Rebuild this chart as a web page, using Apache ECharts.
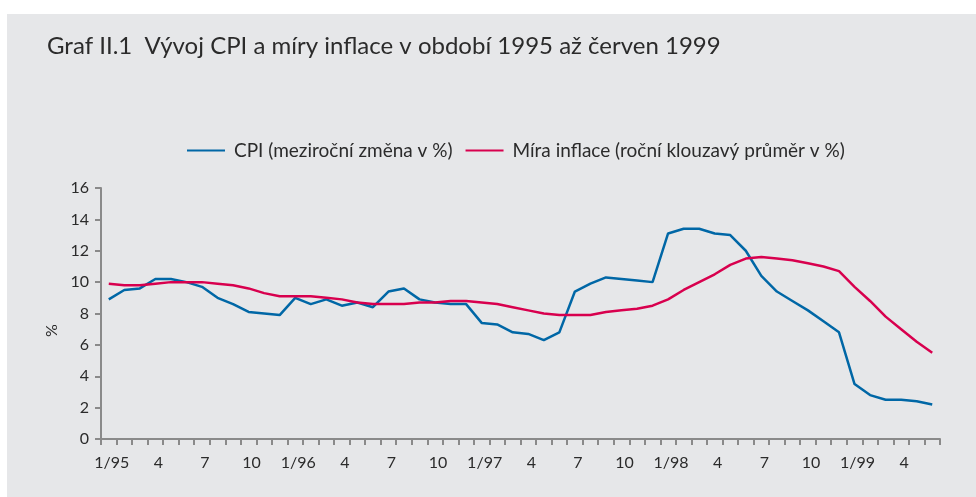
<!DOCTYPE html>
<html>
<head>
<meta charset="utf-8">
<script src="https://cdn.jsdelivr.net/npm/echarts@6/dist/echarts.min.js"></script>
<style>
  html, body { margin: 0; padding: 0; background: #fff; }
  #chart { width: 976px; height: 497px; }
</style>
</head>
<body>
<div id="chart"></div>
<script>
// mesice 1/95 .. 6/99
const months = [
    '1/95', '2', '3', '4', '5', '6', '7', '8', '9', '10', '11', '12',
    '1/96', '2', '3', '4', '5', '6', '7', '8', '9', '10', '11', '12',
    '1/97', '2', '3', '4', '5', '6', '7', '8', '9', '10', '11', '12',
    '1/98', '2', '3', '4', '5', '6', '7', '8', '9', '10', '11', '12',
    '1/99', '2', '3', '4', '5', '6'
]
// CPI (mezirocni zmena v %)
const cpi = [
    8.9, 9.5, 9.6, 10.2, 10.2, 10.0, 9.7, 9.0, 8.6, 8.1, 8.0, 7.9,
    9.0, 8.6, 8.9, 8.5, 8.7, 8.4, 9.4, 9.6, 8.9, 8.7, 8.6, 8.6,
    7.4, 7.3, 6.8, 6.7, 6.3, 6.8, 9.4, 9.9, 10.3, 10.2, 10.1, 10.0,
    13.1, 13.4, 13.4, 13.1, 13.0, 12.0, 10.4, 9.4, 8.8, 8.2, 7.5, 6.8,
    3.5, 2.8, 2.5, 2.5, 2.4, 2.2
]
// mira inflace (rocni klouzavy prumer v %)
const inflace = [
    9.9, 9.8, 9.8, 9.9, 10.0, 10.0, 10.0, 9.9, 9.8, 9.6, 9.3, 9.1,
    9.1, 9.1, 9.0, 8.9, 8.7, 8.6, 8.6, 8.6, 8.7, 8.7, 8.8, 8.8,
    8.7, 8.6, 8.4, 8.2, 8.0, 7.9, 7.9, 7.9, 8.1, 8.2, 8.3, 8.5,
    8.9, 9.5, 10.0, 10.5, 11.1, 11.5, 11.6, 11.5, 11.4, 11.2, 11.0, 10.7,
    9.7, 8.8, 7.8, 7.0, 6.2, 5.5
]

const font = 'Lato'
const axisColor = '#8a8a8a'

let chart = echarts.init(document.getElementById('chart'))
chart.setOption({
    backgroundColor: '#ffffff',
    animation: false,
    textStyle: { fontFamily: font },
    graphic: [
        {
            type: 'rect',
            z: -10,
            shape: { x: 7, y: 14, width: 969, height: 483 },
            style: { fill: '#e6e7e9' }
        }
    ],
    title: {
        text: 'Graf II.1  Vývoj CPI a míry inflace v období 1995 až červen 1999',
        left: 42,
        top: 29,
        textStyle: {
            fontFamily: font,
            fontSize: 24,
            fontWeight: 'normal',
            color: '#2b2b2b'
        }
    },
    legend: {
        left: 182,
        top: 136,
        itemWidth: 38,
        itemHeight: 20,
        itemGap: 13,
        icon: 'path://M0,9 L38,9 L38,11 L0,11 Z',
        textStyle: {
            fontFamily: font,
            fontSize: 19,
            color: '#2b2b2b',
            padding: [0, 0, 0, 4]
        },
        data: ['CPI (meziroční změna v %)', 'Míra inflace (roční klouzavý průměr v %)']
    },
    grid: {
        left: 101,
        right: 36,
        top: 188,
        bottom: 58
    },
    xAxis: {
        type: 'category',
        data: months,
        boundaryGap: true,
        axisLine: { lineStyle: { color: axisColor, width: 2 } },
        axisTick: {
            show: true,
            interval: 0,
            length: 6,
            lineStyle: { color: axisColor, width: 2 }
        },
        axisLabel: {
            interval: 2,
            margin: 16,
            fontFamily: font,
            fontSize: 16,
            color: '#2b2b2b',
            padding: [0, 0, 0, 6]
        },
        splitLine: { show: false }
    },
    yAxis: {
        type: 'value',
        min: 0,
        max: 16,
        interval: 2,
        name: '%',
        nameLocation: 'middle',
        nameGap: 40,
        nameRotate: 90,
        nameTextStyle: {
            fontFamily: font,
            fontSize: 16,
            color: '#2b2b2b',
            padding: [0, 0, 0, -34]
        },
        axisLine: { show: true, lineStyle: { color: axisColor, width: 2 } },
        axisTick: {
            show: true,
            length: 6,
            lineStyle: { color: axisColor, width: 2 }
        },
        axisLabel: {
            margin: 12,
            fontFamily: font,
            fontSize: 16,
            color: '#2b2b2b'
        },
        splitLine: { show: false }
    },
    series: [
        {
            name: 'CPI (meziroční změna v %)',
            type: 'line',
            data: cpi,
            symbol: 'none',
            color: '#0067a6',
            lineStyle: { width: 2.5, color: '#0067a6' }
        },
        {
            name: 'Míra inflace (roční klouzavý průměr v %)',
            type: 'line',
            data: inflace,
            symbol: 'none',
            color: '#d8004e',
            lineStyle: { width: 2.5, color: '#d8004e' }
        }
    ]
})
</script>
</body>
</html>
